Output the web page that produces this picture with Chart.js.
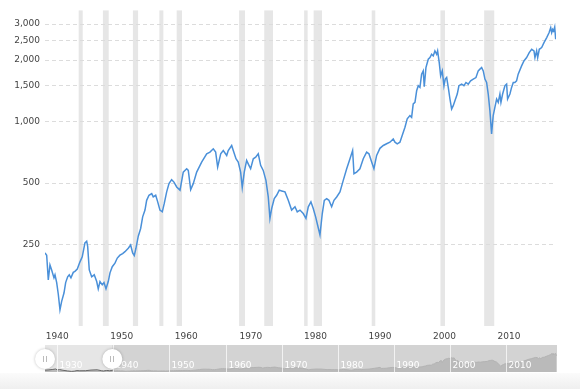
<!DOCTYPE html>
<html>
<head>
<meta charset="utf-8">
<script src="https://cdn.jsdelivr.net/npm/chart.js@4/dist/chart.umd.min.js"></script>
<style>
    body { margin: 0; background: #fff; }
    #wrap { position: relative; width: 580px; height: 389px; overflow: hidden; }
    #grafico { position: absolute; left: 0; top: 0; }
    #navegador { position: absolute; left: 0; top: 340px; }
    #rodape { position: absolute; left: 0; top: 373px; width: 580px; height: 16px; background: linear-gradient(#fbfbfb, #efefef); }
</style>
</head>
<body>
<div id="wrap">
    <div id="rodape"></div>
    <canvas id="grafico" width="580" height="344"></canvas>
    <canvas id="navegador" width="580" height="36"></canvas>
</div>
<script>
const anos = [
    1939.88, 1940.14, 1940.39, 1940.65, 1940.91, 1941.27, 1941.43, 1941.69, 1941.94, 1942.2,
    1942.46, 1942.82, 1943.08, 1943.39, 1943.64, 1943.9, 1944.26, 1944.52, 1944.88, 1945.3,
    1945.65, 1946.07, 1946.34, 1946.49, 1946.74, 1947.11, 1947.51, 1947.89, 1948.13, 1948.4,
    1948.75, 1949.02, 1949.33, 1949.68, 1949.95, 1950.3, 1950.72, 1951.08, 1951.49, 1951.91,
    1952.27, 1952.78, 1953.15, 1953.46, 1953.71, 1953.97, 1954.33, 1954.7, 1955.01, 1955.37,
    1955.63, 1955.99, 1956.41, 1956.65, 1957.03, 1957.34, 1957.69, 1958.05, 1958.36, 1958.73,
    1959.09, 1959.5, 1959.86, 1960.28, 1960.8, 1961.3, 1961.83, 1962.08, 1962.45, 1962.85,
    1963.38, 1964.15, 1964.93, 1965.44, 1965.95, 1966.32, 1966.63, 1967.1, 1967.5, 1968.03,
    1968.27, 1968.8, 1969.05, 1969.47, 1969.82, 1970.19, 1970.44, 1970.75, 1971.12, 1971.48,
    1971.74, 1972.15, 1972.52, 1972.92, 1973.29, 1973.69, 1974.11, 1974.47, 1974.73, 1975.0,
    1975.4, 1975.77, 1976.17, 1976.55, 1977.06, 1977.57, 1978.09, 1978.61, 1978.96, 1979.38,
    1979.89, 1980.31, 1980.67, 1981.08, 1981.44, 1981.81, 1982.12, 1982.48, 1982.84, 1983.15,
    1983.52, 1983.87, 1984.29, 1984.65, 1985.07, 1985.58, 1986.09, 1986.62, 1987.13, 1987.54,
    1987.75, 1988.16, 1988.67, 1989.19, 1989.71, 1990.07, 1990.49, 1990.84, 1991.26, 1991.77,
    1992.29, 1992.81, 1993.32, 1993.83, 1994.1, 1994.45, 1994.87, 1995.13, 1995.65, 1996.0,
    1996.42, 1996.68, 1996.93, 1997.2, 1997.46, 1997.71, 1997.97, 1998.23, 1998.48, 1998.64,
    1998.9, 1999.26, 1999.52, 1999.78, 2000.03, 2000.29, 2000.56, 2000.71, 2000.96, 2001.18,
    2001.43, 2001.69, 2001.89, 2002.11, 2002.36, 2002.62, 2002.88, 2003.13, 2003.39, 2003.75,
    2004.01, 2004.43, 2004.79, 2005.1, 2005.45, 2005.82, 2006.23, 2006.65, 2007.0, 2007.27,
    2007.53, 2007.78, 2008.04, 2008.3, 2008.55, 2008.81, 2009.07, 2009.32, 2009.58, 2009.85,
    2010.1, 2010.36, 2010.52, 2010.78, 2011.14, 2011.4, 2011.55, 2011.91, 2012.17, 2012.43,
    2012.68, 2012.94, 2013.19, 2013.72, 2014.08, 2014.5, 2014.9, 2015.28, 2015.64, 2015.79,
    2016.05, 2016.21, 2016.46, 2016.83, 2017.19, 2017.61, 2017.97, 2018.23, 2018.38, 2018.54,
    2018.69, 2018.85, 2019.0
];

const valores = [
    228, 222, 168, 199, 188, 172, 178, 163, 143, 120,
    132, 145, 163, 174, 178, 172, 183, 185, 190, 206,
    218, 255, 260, 245, 188, 174, 178, 165, 152, 165,
    159, 163, 152, 165, 182, 195, 203, 215, 222, 226,
    231, 240, 249, 228, 221, 240, 275, 300, 342, 369,
    412, 436, 444, 428, 436, 405, 369, 362, 398, 453,
    497, 520, 506, 479, 462, 566, 588, 577, 465, 497,
    566, 634, 696, 709, 736, 709, 599, 696, 722, 683,
    722, 764, 722, 658, 634, 566, 476, 566, 646, 611,
    588, 658, 670, 696, 611, 577, 516, 428, 336, 376,
    420, 436, 462, 458, 453, 412, 369, 383, 362, 369,
    355, 336, 383, 405, 376, 342, 311, 279, 355, 412,
    420, 412, 383, 412, 428, 453, 516, 588, 658, 722,
    556, 566, 588, 658, 709, 696, 634, 588, 683, 740,
    764, 779, 793, 823, 793, 779, 793, 839, 938, 1031,
    1070, 1050, 1220, 1242, 1415, 1498, 1470, 1707, 1771, 1481,
    1838, 2019, 2057, 2136, 2096, 2218, 2136, 2218, 1944, 1675,
    1771, 1498, 1614, 1643, 1470, 1290, 1153, 1197, 1265, 1364,
    1498, 1526, 1498, 1554, 1526, 1583, 1614, 1643, 1771, 1806,
    1838, 1771, 1614, 1554, 1364, 1131, 871, 1070, 1174, 1290,
    1242, 1364, 1242, 1364, 1498, 1526, 1290, 1364, 1470, 1554,
    1554, 1583, 1707, 1873, 1981, 2057, 2174, 2259, 2218, 2057,
    2218, 2057, 2259, 2303, 2433, 2576, 2722, 2880, 2722, 2827,
    2775, 2898, 2527
];

// recessoes (inicio, fim)
const recessoesInicio = [1945.1, 1948.85, 1953.5, 1957.6, 1960.28, 1969.95, 1973.85, 1980.03, 1981.5, 1990.5, 2001.15, 2007.92];
const recessoesFim = [1945.72, 1949.75, 1954.3, 1958.22, 1961.1, 1970.86, 1975.2, 1980.57, 1982.8, 1991.05, 2001.85, 2009.48];

const ticksY = [250, 500, 1000, 1500, 2000, 2500, 3000];
const ticksX = [1940, 1950, 1960, 1970, 1980, 1990, 2000, 2010];

// navegador: anos anteriores a 1940
const anosAntigos = [1927.8, 1928.5, 1929.2, 1929.7, 1930.0, 1930.4, 1931.0, 1931.8, 1932.5, 1933.0, 1933.5, 1934.0, 1935.0, 1936.0, 1937.1, 1937.9, 1938.2, 1938.8, 1939.3];
const valoresAntigos = [280, 330, 400, 470, 320, 380, 270, 170, 95, 130, 220, 190, 200, 300, 340, 200, 160, 240, 200];
const ticksNavegador = [1930, 1940, 1950, 1960, 1970, 1980, 1990, 2000, 2010];
const selecaoNavegador = [1927.8, 1939.8];

const fonteEixo = { family: "DejaVu Sans", size: 9 };

const faixasRecessao = {
    id: "faixasRecessao",
    beforeDraw(chart) {
        const { ctx, chartArea, scales } = chart;
        ctx.save();
        ctx.fillStyle = "#e6e6e6";
        recessoesInicio.forEach((ini, i) => {
            const x1 = Math.max(scales.x.getPixelForValue(ini), chartArea.left);
            const x2 = Math.min(scales.x.getPixelForValue(recessoesFim[i]), chartArea.right);
            ctx.fillRect(x1, chartArea.top, x2 - x1, chartArea.bottom - chartArea.top);
        });
        ctx.restore();
    }
};

const ctx = document.getElementById("grafico").getContext("2d");
new Chart(ctx, {
    type: "line",
    data: {
        datasets: [{
            data: anos.map((a, i) => ({ x: a, y: valores[i] })),
            borderColor: "#4a90d9",
            borderWidth: 1.5,
            pointRadius: 0,
            tension: 0,
            fill: false
        }]
    },
    options: {
        responsive: false,
        animation: false,
        layout: { padding: { top: 9, right: 24, bottom: 0, left: 0 } },
        plugins: { legend: { display: false }, tooltip: { enabled: false } },
        scales: {
            x: {
                type: "linear",
                min: 1939.88,
                max: 2019.05,
                grid: { display: false, drawTicks: false },
                border: { display: false },
                afterFit: s => { s.height = 18; },
                afterBuildTicks: s => { s.ticks = ticksX.map(v => ({ value: v })); },
                ticks: {
                    align: "start",
                    padding: 5,
                    maxRotation: 0,
                    autoSkip: false,
                    color: "#444",
                    font: fonteEixo,
                    callback: v => String(v)
                }
            },
            y: {
                type: "logarithmic",
                min: 100,
                max: 3500,
                afterFit: s => { s.width = 45; },
                afterBuildTicks: s => { s.ticks = ticksY.map(v => ({ value: v })); },
                grid: { color: "#dcdcdc", drawTicks: false },
                border: { display: false, dash: [4, 3] },
                ticks: {
                    padding: 5,
                    color: "#444",
                    font: fonteEixo,
                    callback: v => v.toLocaleString("en-US")
                }
            }
        }
    },
    plugins: [faixasRecessao]
});

const navegadorPlugin = {
    id: "navegadorPlugin",
    beforeDatasetsDraw(chart) {
        const { ctx, chartArea, scales } = chart;
        ctx.save();
        ctx.fillStyle = "#d3d3d3";
        ctx.fillRect(chartArea.left, chartArea.top, chartArea.right - chartArea.left, chartArea.bottom - chartArea.top);
        const s1 = scales.x.getPixelForValue(selecaoNavegador[0]);
        const s2 = scales.x.getPixelForValue(selecaoNavegador[1]);
        ctx.fillStyle = "#e6e6e6";
        ctx.fillRect(s1, chartArea.top, s2 - s1, chartArea.bottom - chartArea.top);
        ctx.restore();
    },
    afterDatasetsDraw(chart) {
        const { ctx, chartArea, scales } = chart;
        ctx.save();
        ctx.strokeStyle = "rgba(255,255,255,0.7)";
        ctx.lineWidth = 1;
        ctx.fillStyle = "#ffffff";
        ctx.font = "9px 'DejaVu Sans'";
        ctx.textBaseline = "alphabetic";
        ticksNavegador.forEach(a => {
            const x = Math.round(scales.x.getPixelForValue(a)) + 0.5;
            ctx.beginPath();
            ctx.moveTo(x, chartArea.top);
            ctx.lineTo(x, chartArea.bottom);
            ctx.stroke();
            ctx.fillText(String(a), x + 2, chartArea.top + 23);
        });
        // alcas
        const cy = chartArea.top + 14;
        selecaoNavegador.forEach(a => {
            const x = scales.x.getPixelForValue(a);
            ctx.save();
            ctx.shadowColor = "rgba(0,0,0,0.25)";
            ctx.shadowBlur = 3;
            ctx.beginPath();
            ctx.arc(x, cy, 10, 0, Math.PI * 2);
            ctx.fillStyle = "#ffffff";
            ctx.fill();
            ctx.restore();
            ctx.strokeStyle = "#bbbbbb";
            ctx.lineWidth = 1;
            ctx.beginPath();
            ctx.moveTo(Math.round(x) - 1.5, cy - 3);
            ctx.lineTo(Math.round(x) - 1.5, cy + 3);
            ctx.moveTo(Math.round(x) + 1.5, cy - 3);
            ctx.lineTo(Math.round(x) + 1.5, cy + 3);
            ctx.stroke();
        });
        ctx.restore();
    }
};

const ctxNav = document.getElementById("navegador").getContext("2d");
const anosNav = anosAntigos.concat(anos);
const valoresNav = valoresAntigos.concat(valores);
new Chart(ctxNav, {
    type: "line",
    data: {
        datasets: [{
            data: anosNav.map((a, i) => ({ x: a, y: valoresNav[i] })),
            borderColor: "#b3b3b3",
            borderWidth: 1,
            backgroundColor: "#bababa",
            fill: "origin",
            pointRadius: 0,
            tension: 0,
            segment: {
                borderColor: c => c.p0.parsed.x < selecaoNavegador[1] ? "#666666" : "#b3b3b3"
            }
        }]
    },
    options: {
        responsive: false,
        animation: false,
        layout: { padding: { top: 5, right: 23, bottom: 4, left: 45 } },
        plugins: { legend: { display: false }, tooltip: { enabled: false } },
        scales: {
            x: { type: "linear", display: false, min: 1927.8, max: 2019.1 },
            y: { display: false, min: 0, max: 4200 }
        }
    },
    plugins: [navegadorPlugin]
});
</script>
</body>
</html>
